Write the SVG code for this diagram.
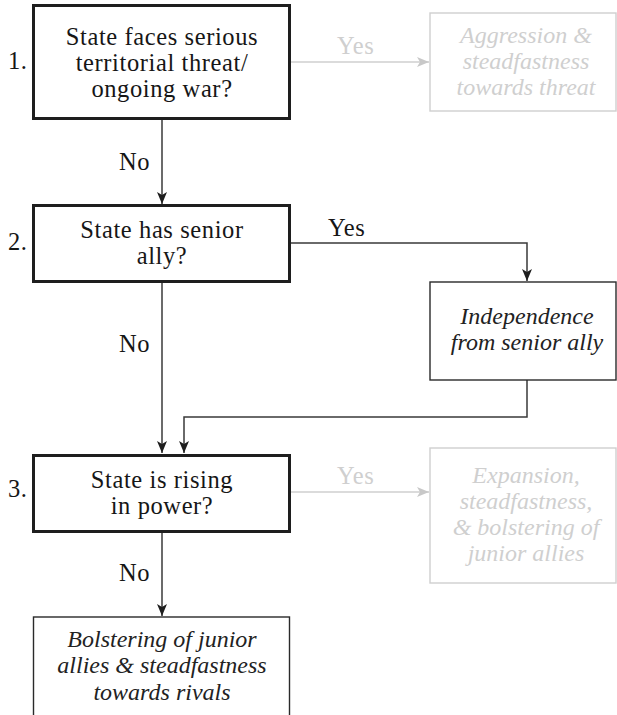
<svg xmlns="http://www.w3.org/2000/svg" width="617" height="715" viewBox="0 0 617 715">
<style>
.q{fill:#fff;stroke:#1e1e1e;stroke-width:3}
.o{fill:#fff;stroke:#2a2a2a;stroke-width:1.4}
.g{fill:#fff;stroke:#cfcfcf;stroke-width:1.4}
.t{font-family:"Liberation Serif","Times New Roman",serif;font-size:24.5px;letter-spacing:0.6px;fill:#161616;text-anchor:middle}
.i{font-family:"Liberation Serif","Times New Roman",serif;font-size:24px;font-style:italic;fill:#222;text-anchor:middle}
.gi{font-family:"Liberation Serif","Times New Roman",serif;font-size:24px;font-style:italic;fill:#cfcfcf;text-anchor:middle}
.n{font-family:"Liberation Serif","Times New Roman",serif;font-size:24.5px;letter-spacing:0.6px;fill:#161616}
.gl{font-family:"Liberation Serif","Times New Roman",serif;font-size:24.5px;letter-spacing:0.6px;fill:#cfcfcf}
.c{fill:none;stroke:#3a3a3a;stroke-width:1.5}
.cg{fill:none;stroke:#cfcfcf;stroke-width:1.5}
</style>
<defs>
<marker id="ad" viewBox="0 0 12 10" refX="12" refY="5" markerWidth="12" markerHeight="10" markerUnits="userSpaceOnUse" orient="auto">
<path d="M0,0 L12,5 L0,10 L3,5 z" fill="#1e1e1e"/>
</marker>
<marker id="ag" viewBox="0 0 12 10" refX="12" refY="5" markerWidth="12" markerHeight="10" markerUnits="userSpaceOnUse" orient="auto">
<path d="M0,0 L12,5 L0,10 L3,5 z" fill="#c8c8c8"/>
</marker>
</defs>
<g id="connectors">
<path class="c" d="M162,120 V204" marker-end="url(#ad)"/>
<path class="cg" d="M291,62 H429" marker-end="url(#ag)"/>
<path class="c" d="M291,243 H527 V281" marker-end="url(#ad)"/>
<path class="c" d="M162,283 V453" marker-end="url(#ad)"/>
<path class="c" d="M527,380 V417 H184 V453" marker-end="url(#ad)"/>
<path class="cg" d="M291,492 H429" marker-end="url(#ag)"/>
<path class="c" d="M162,533 V616" marker-end="url(#ad)"/>
<text class="gl" x="337" y="54">Yes</text>
<text class="n" x="119" y="170">No</text>
<text class="n" x="328" y="236">Yes</text>
<text class="n" x="119" y="352">No</text>
<text class="gl" x="337" y="484">Yes</text>
<text class="n" x="119" y="581">No</text>
</g>
<g id="q1">
<rect class="q" x="33.5" y="5.5" width="256" height="113"/>
<text class="n" x="8" y="69">1.</text>
<text class="t" x="162" y="45">State faces serious</text>
<text class="t" x="162" y="71">territorial threat/</text>
<text class="t" x="162" y="97">ongoing war?</text>
</g>
<g id="r1">
<rect class="g" x="430" y="13" width="186" height="98"/>
<text class="gi" x="526" y="43">Aggression &amp;</text>
<text class="gi" x="526" y="69">steadfastness</text>
<text class="gi" x="526" y="95">towards threat</text>
</g>
<g id="q2">
<rect class="q" x="33.5" y="205.5" width="256" height="76"/>
<text class="n" x="8" y="250">2.</text>
<text class="t" x="162" y="238">State has senior</text>
<text class="t" x="162" y="264">ally?</text>
</g>
<g id="r2">
<rect class="o" x="430" y="282" width="186" height="98"/>
<text class="i" x="527" y="324">Independence</text>
<text class="i" x="527" y="350">from senior ally</text>
</g>
<g id="q3">
<rect class="q" x="33.5" y="455.5" width="256" height="76"/>
<text class="n" x="8" y="497">3.</text>
<text class="t" x="162" y="488">State is rising</text>
<text class="t" x="162" y="514">in power?</text>
</g>
<g id="r3">
<rect class="g" x="430" y="448" width="186" height="135"/>
<text class="gi" x="526" y="483">Expansion,</text>
<text class="gi" x="526" y="509">steadfastness,</text>
<text class="gi" x="526" y="535">&amp; bolstering of</text>
<text class="gi" x="526" y="561">junior allies</text>
</g>
<g id="r4">
<rect class="o" x="33.5" y="617" width="256" height="110"/>
<text class="i" x="162" y="647">Bolstering of junior</text>
<text class="i" x="162" y="673">allies &amp; steadfastness</text>
<text class="i" x="162" y="700">towards rivals</text>
</g>
</svg>
